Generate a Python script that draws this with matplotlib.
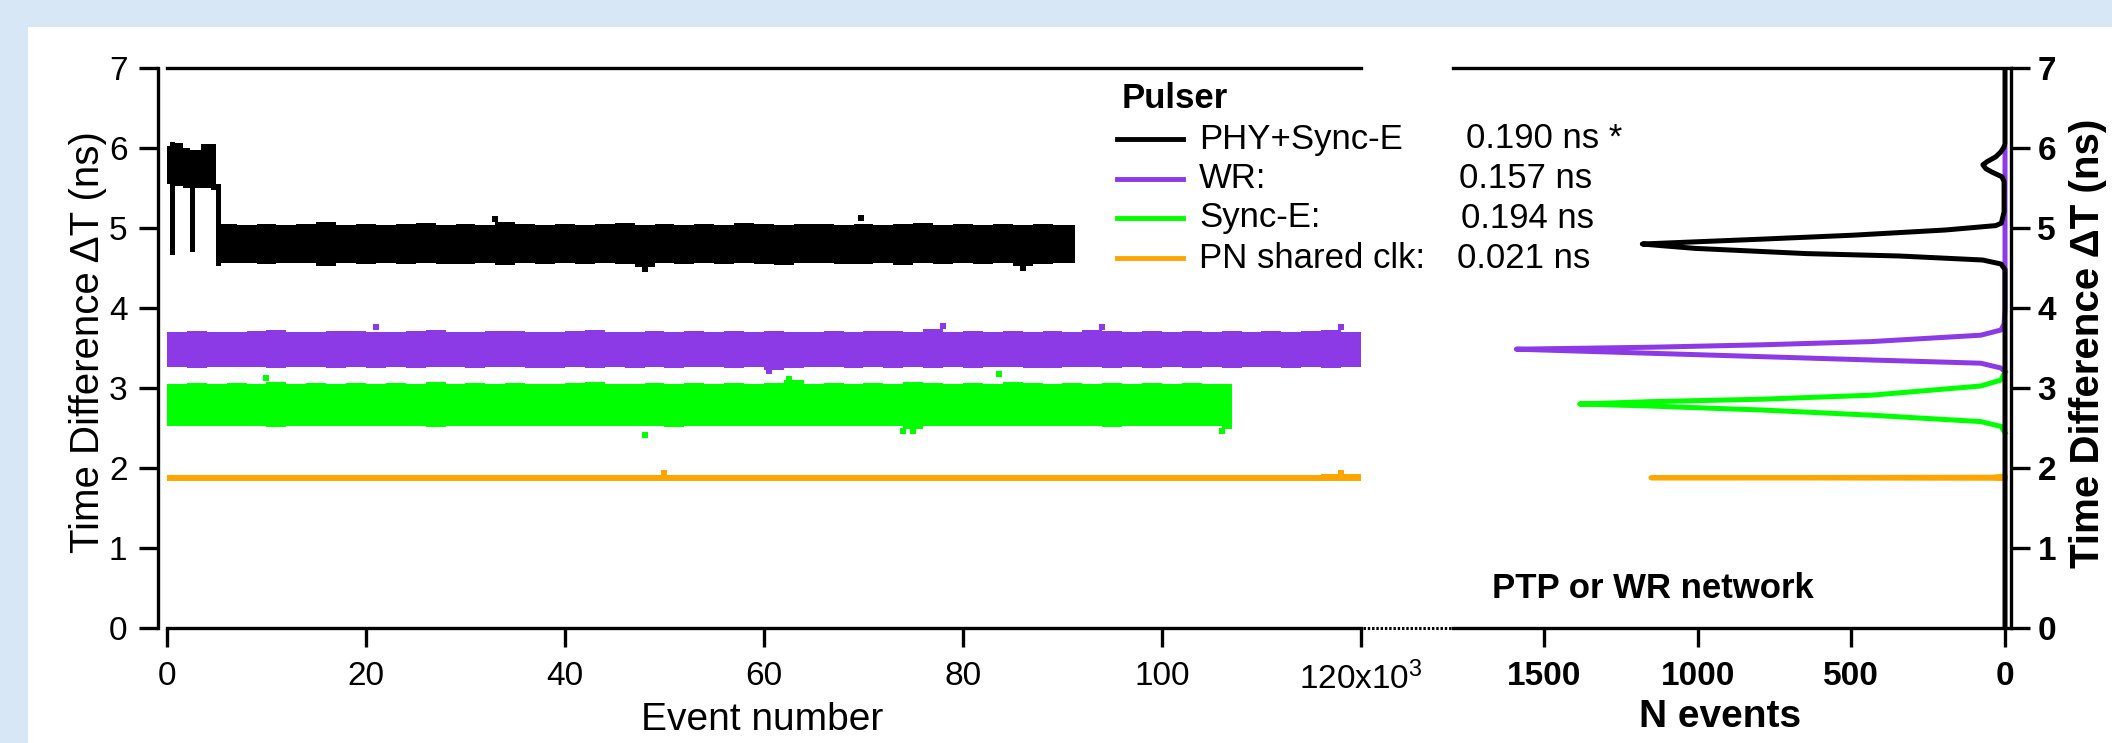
import matplotlib
matplotlib.use("Agg")
import matplotlib.pyplot as plt
from matplotlib.lines import Line2D
from matplotlib.patches import Rectangle

plt.rcParams['font.family'] = ['Liberation Sans', 'DejaVu Sans']
plt.rcParams['mathtext.fontset'] = 'custom'
plt.rcParams['mathtext.rm'] = 'Liberation Sans'
plt.rcParams['mathtext.default'] = 'regular'

# ---- data ----
series_names = ['PHY+Sync-E', 'WR:', 'Sync-E:', 'PN shared clk:']
series_sigma = ['0.190 ns *', '0.157 ns', '0.194 ns', '0.021 ns']
series_colors = ['#000000', '#8c3ae6', '#00ff00', '#ffa500']

# event number (x1000) and band envelopes (ns) of the scatter bands
black_x = [0.0, 0.3, 0.8, 1.6, 2.3, 2.8, 3.4, 4.4, 4.9, 5.4,
           7, 9, 11, 13, 15, 17, 19, 21, 23, 25,
           27, 29, 31, 33, 35, 37, 39, 41, 43, 45,
           47, 49, 51, 53, 55, 57, 59, 61, 63, 65,
           67, 69, 71, 73, 75, 77, 79, 81, 83, 85,
           87, 89, 91.3]
black_hi = [6.03, 6.07, 6.06, 6.00, 5.98, 5.98, 6.05, 6.05, 5.55, 5.05,
            5.04, 5.05, 5.04, 5.05, 5.07, 5.04, 5.05, 5.04, 5.05, 5.06,
            5.04, 5.05, 5.04, 5.08, 5.05, 5.04, 5.05, 5.04, 5.05, 5.06,
            5.04, 5.05, 5.04, 5.05, 5.04, 5.06, 5.05, 5.04, 5.05, 5.05,
            5.04, 5.05, 5.04, 5.05, 5.06, 5.04, 5.05, 5.04, 5.05, 5.04,
            5.05, 5.04, 5.04]
black_lo = [5.55, 4.66, 5.52, 5.50, 4.70, 5.50, 5.50, 5.48, 4.52, 4.56,
            4.56, 4.55, 4.56, 4.56, 4.53, 4.56, 4.55, 4.56, 4.55, 4.56,
            4.55, 4.55, 4.56, 4.54, 4.56, 4.55, 4.56, 4.55, 4.56, 4.55,
            4.51, 4.56, 4.55, 4.56, 4.55, 4.56, 4.55, 4.54, 4.56, 4.56,
            4.55, 4.55, 4.56, 4.54, 4.56, 4.55, 4.56, 4.55, 4.56, 4.53,
            4.55, 4.56, 4.56]

purple_x = [0, 2, 4, 6, 8, 10, 12, 14, 16, 18,
            20, 22, 24, 26, 28, 30, 32, 34, 36, 38,
            40, 42, 44, 46, 48, 50, 52, 54, 56, 58,
            60, 62, 64, 66, 68, 70, 72, 74, 76, 78,
            80, 82, 84, 86, 88, 90, 92, 94, 96, 98,
            100, 102, 104, 106, 108, 110, 112, 114, 116, 118,
            120]
purple_hi = [3.70, 3.71, 3.70, 3.70, 3.71, 3.72, 3.70, 3.70, 3.71, 3.71,
             3.70, 3.70, 3.71, 3.72, 3.70, 3.70, 3.71, 3.71, 3.70, 3.70,
             3.71, 3.72, 3.70, 3.70, 3.71, 3.70, 3.71, 3.70, 3.71, 3.70,
             3.71, 3.70, 3.70, 3.71, 3.70, 3.71, 3.71, 3.70, 3.74, 3.70,
             3.71, 3.70, 3.71, 3.70, 3.71, 3.70, 3.73, 3.71, 3.70, 3.71,
             3.70, 3.71, 3.70, 3.71, 3.70, 3.71, 3.70, 3.71, 3.73, 3.70,
             3.70]
purple_lo = [3.26, 3.25, 3.26, 3.26, 3.26, 3.25, 3.26, 3.26, 3.25, 3.26,
             3.25, 3.26, 3.25, 3.26, 3.26, 3.25, 3.26, 3.26, 3.25, 3.25,
             3.26, 3.25, 3.26, 3.25, 3.26, 3.25, 3.26, 3.26, 3.25, 3.26,
             3.22, 3.25, 3.26, 3.26, 3.25, 3.26, 3.25, 3.26, 3.25, 3.26,
             3.25, 3.26, 3.26, 3.25, 3.25, 3.26, 3.26, 3.25, 3.26, 3.25,
             3.26, 3.25, 3.26, 3.25, 3.26, 3.26, 3.25, 3.26, 3.25, 3.26,
             3.26]

green_x = [0, 2, 4, 6, 8, 10, 12, 14, 16, 18,
           20, 22, 24, 26, 28, 30, 32, 34, 36, 38,
           40, 42, 44, 46, 48, 50, 52, 54, 56, 58,
           60, 62, 64, 66, 68, 70, 72, 74, 76, 78,
           80, 82, 84, 86, 88, 90, 92, 94, 96, 98,
           100, 102, 104, 106, 107]
green_hi = [3.05, 3.06, 3.05, 3.06, 3.05, 3.07, 3.05, 3.06, 3.05, 3.06,
            3.05, 3.06, 3.05, 3.07, 3.05, 3.06, 3.05, 3.06, 3.05, 3.05,
            3.06, 3.07, 3.05, 3.05, 3.06, 3.05, 3.06, 3.05, 3.06, 3.05,
            3.06, 3.10, 3.05, 3.06, 3.05, 3.06, 3.05, 3.07, 3.06, 3.05,
            3.06, 3.05, 3.08, 3.06, 3.05, 3.06, 3.05, 3.06, 3.05, 3.06,
            3.05, 3.06, 3.05, 3.05, 3.05]
green_lo = [2.53, 2.52, 2.53, 2.53, 2.53, 2.51, 2.53, 2.52, 2.53, 2.52,
            2.53, 2.52, 2.53, 2.51, 2.53, 2.52, 2.52, 2.53, 2.53, 2.52,
            2.53, 2.52, 2.53, 2.52, 2.53, 2.51, 2.53, 2.52, 2.53, 2.52,
            2.53, 2.52, 2.53, 2.52, 2.53, 2.52, 2.53, 2.49, 2.52, 2.53,
            2.52, 2.53, 2.52, 2.53, 2.52, 2.53, 2.52, 2.51, 2.53, 2.52,
            2.53, 2.52, 2.53, 2.49, 2.49]

orange_x = [0, 4, 8, 12, 16, 20, 24, 28, 32, 36,
            40, 44, 48, 52, 56, 60, 64, 68, 72, 76,
            80, 84, 88, 92, 96, 100, 104, 108, 112, 116,
            120]
orange_hi = [1.91, 1.915, 1.91, 1.91, 1.915, 1.91, 1.91, 1.915, 1.91, 1.91,
             1.915, 1.91, 1.91, 1.91, 1.915, 1.91, 1.91, 1.915, 1.91, 1.91,
             1.91, 1.915, 1.91, 1.91, 1.915, 1.91, 1.91, 1.91, 1.915, 1.92,
             1.92]
orange_lo = [1.835, 1.84, 1.835, 1.84, 1.835, 1.84, 1.835, 1.84, 1.835, 1.835,
             1.84, 1.835, 1.84, 1.835, 1.84, 1.835, 1.84, 1.835, 1.835, 1.84,
             1.835, 1.84, 1.835, 1.84, 1.835, 1.84, 1.835, 1.84, 1.835, 1.835,
             1.835]

# isolated outlier points (event x1000, ns)
outlier_x = [[69.8, 33.0, 48.0, 86.0], [78.0, 94.0, 118.0, 60.5, 21.0],
             [62.5, 83.6, 75.0, 74.0, 106.0, 48.0, 10.0], [50.0, 118.0]]
outlier_y = [[5.12, 5.11, 4.49, 4.50], [3.77, 3.76, 3.76, 3.21, 3.76],
             [3.11, 3.17, 2.46, 2.46, 2.46, 2.41, 3.12], [1.94, 1.94]]

# histograms (ns, N events)
hist_black_ns = [7.0, 6.05, 6.00, 5.95, 5.89, 5.83, 5.79, 5.74, 5.70, 5.64,
                 5.58, 5.20, 5.06, 5.03, 4.975, 4.91, 4.86, 4.80, 4.78, 4.745,
                 4.68, 4.65, 4.60, 4.55, 4.48, 0.0]
hist_black_n = [0, 0, 5, 14, 30, 58, 72, 62, 43, 10,
                3, 3, 12, 30, 194, 495, 796, 1180, 1120, 1007,
                646, 344, 73, 13, 0, 0]
hist_purple_ns = [6.00, 5.90, 5.50, 4.60, 4.00, 3.80, 3.725, 3.66, 3.58, 3.54,
                  3.51, 3.485, 3.475, 3.41, 3.35, 3.31, 3.25, 3.20]
hist_purple_n = [0, 0, 0, 0, 0, 3, 13, 79, 435, 791,
                 1147, 1590, 1503, 947, 435, 79, 13, 0]
hist_green_ns = [3.20, 3.10, 3.025, 2.91, 2.86, 2.83, 2.80, 2.775, 2.725, 2.66,
                 2.58, 2.52, 2.44]
hist_green_n = [0, 13, 79, 435, 791, 1147, 1384, 1159, 791, 435,
                79, 13, 0]
hist_orange_ns = [1.90, 1.885, 1.878, 1.872, 1.865]
hist_orange_n = [0, 40, 1152, 40, 0]

event_ticks = [0, 20, 40, 60, 80, 100, 120]
event_ticklabels = ['0', '20', '40', '60', '80', '100', '120x10$^{3}$']
count_ticks = [1500, 1000, 500, 0]
ns_ticks = [0, 1, 2, 3, 4, 5, 6, 7]

# ---- layout helpers (pixel positions of the 2112x743 canvas) ----
W, H = 2112, 743


def fx(px):
    return px / W


def fy(py):
    return 1 - py / H


fig = plt.figure(figsize=(W / 100, H / 100), dpi=100)
fig.patch.set_facecolor('#d8e7f5')
fig.add_artist(Rectangle((fx(28), 0), 1, fy(27), transform=fig.transFigure,
                         facecolor='white', edgecolor='none', zorder=0))

ax_top, ax_bot = 68, 628
ax1 = fig.add_axes([fx(158), fy(ax_bot), fx(1361 - 158), (ax_bot - ax_top) / H])
ax2 = fig.add_axes([fx(1453), fy(ax_bot), fx(2011 - 1453), (ax_bot - ax_top) / H])
for ax in (ax1, ax2):
    ax.set_facecolor('none')
    ax.set_ylim(0, 7)
    ax.set_yticks(ns_ticks)
    for s in ax.spines.values():
        s.set_linewidth(2.4)
    ax.tick_params(direction='out', length=14, width=2.4, labelsize=24)

# left panel: time series bands
bands = [(black_x, black_lo, black_hi), (purple_x, purple_lo, purple_hi),
         (green_x, green_lo, green_hi), (orange_x, orange_lo, orange_hi)]
for (bx, blo, bhi), col, ox, oy in zip(bands, series_colors, outlier_x, outlier_y):
    ax1.fill_between(bx, blo, bhi, step='post', color=col, lw=0)
    ax1.scatter(ox, oy, marker='s', s=14, color=col, lw=0)

ax1.set_xlim(-0.9, 120)
ax1.set_xticks(event_ticks)
ax1.set_xticklabels(event_ticklabels)
ax1.spines['right'].set_visible(False)
ax1.spines['top'].set_bounds(0, 120)
ax1.spines['bottom'].set_bounds(0, 120)
ax1.tick_params(axis='x', pad=10)
ax1.tick_params(axis='y', pad=8)

# right panel: histograms
hists = [(hist_purple_n, hist_purple_ns, series_colors[1]),
         (hist_green_n, hist_green_ns, series_colors[2]),
         (hist_orange_n, hist_orange_ns, series_colors[3]),
         (hist_black_n, hist_black_ns, series_colors[0])]
for hn, hns, col in hists:
    ax2.plot(hn, hns, color=col, lw=3.6, solid_joinstyle='round')

ax2.set_xlim(1796, -19.5)
ax2.set_xticks(count_ticks)
ax2.spines['left'].set_visible(False)
ax2.yaxis.tick_right()
ax2.tick_params(axis='x', pad=10)
ax2.tick_params(axis='y', pad=5)
for lab in ax2.get_xticklabels() + ax2.get_yticklabels():
    lab.set_fontweight('bold')

# dotted axis break between panels
fig.add_artist(Line2D([fx(1363), fx(1453)], [fy(628), fy(628)], transform=fig.transFigure,
                      color='black', lw=2.2, linestyle=(0, (0.8, 0.6))))

# axis titles
fig.text(fx(88), fy(342), 'Time Difference \u0394T (ns)', rotation=90, ha='center', va='center', fontsize=29)
fig.text(fx(762), fy(720), 'Event number', ha='center', va='center', fontsize=28)
fig.text(fx(1720), fy(717), 'N events', ha='center', va='center', fontsize=28, fontweight='bold')
fig.text(fx(2088), fy(343), 'Time Difference \u0394T (ns)', rotation=90, ha='center', va='center',
         fontsize=29, fontweight='bold')
fig.text(fx(1653), fy(588), 'PTP or WR network', ha='center', va='center', fontsize=25, fontweight='bold')

# legend block
fig.text(fx(1122), fy(98), 'Pulser', ha='left', va='center', fontsize=25, fontweight='bold')
row_y = [139, 179, 218, 258]
val_x = [1466, 1459, 1461, 1457]
for name, sig, col, ry, vx in zip(series_names, series_sigma, series_colors, row_y, val_x):
    fig.add_artist(Line2D([fx(1117), fx(1183)], [fy(ry), fy(ry)], transform=fig.transFigure,
                          color=col, lw=3.5))
    fig.text(fx(1199), fy(ry), name, ha='left', va='center', fontsize=25)
    fig.text(fx(vx), fy(ry), sig, ha='left', va='center', fontsize=25)

fig.savefig('out.png', dpi=100, facecolor=fig.get_facecolor())
